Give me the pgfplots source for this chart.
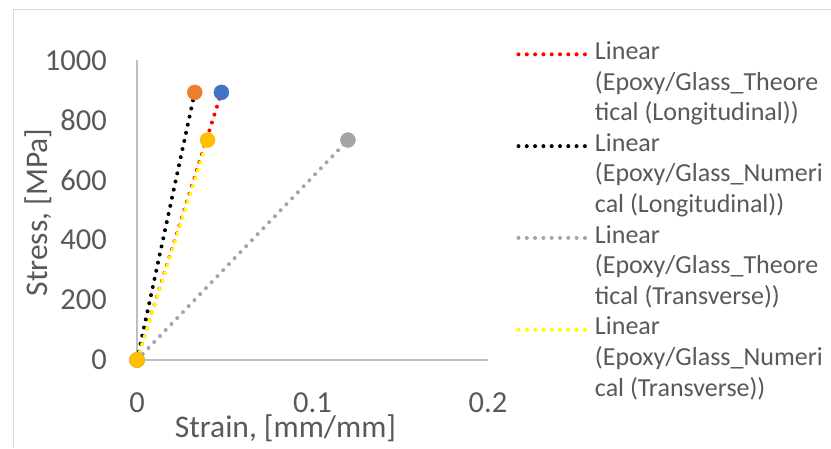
\documentclass[border=0pt]{standalone}
\usepackage{pgfplots}
\pgfplotsset{compat=1.18}
\usepackage{fontspec}
\setmainfont{Carlito}
\definecolor{txt}{HTML}{595959}
\definecolor{axc}{HTML}{BFBFBF}
\definecolor{brd}{HTML}{D9D9D9}
\definecolor{cblue}{HTML}{4472C4}
\definecolor{corange}{HTML}{ED7D31}
\definecolor{cgray}{HTML}{A5A5A5}
\definecolor{cyellow}{HTML}{FFC000}
\definecolor{lyellow}{HTML}{FFFF00}
\begin{document}
\begin{tikzpicture}
\useasboundingbox (0pt,0pt) rectangle (831pt,448pt);
\draw[brd, line width=1pt] (13pt,0pt) -- (13pt,438pt) -- (831pt,438pt);
\begin{axis}[
  at={(137pt,88pt)}, anchor=south west,
  scale only axis, width=351pt, height=299.7pt,
  xmin=0, xmax=0.2, ymin=0, ymax=1000,
  clip=false,
  axis x line*=bottom, axis y line*=left,
  axis line style={axc, line width=2pt, -},
  major tick length=0pt,
  xtick={0,0.1,0.2}, xticklabels={0,0.1,0.2},
  ytick={0,200,400,600,800,1000}, yticklabels={0,200,400,600,800,1000},
  /pgf/number format/assume math mode=true,
  every tick label/.append style={font=\fontsize{30.5}{36}\selectfont, text=txt},
  yticklabel style={anchor=east, inner sep=0pt, xshift=-30pt},
  xticklabel style={anchor=north, inner sep=0pt, yshift=-33pt},
  xlabel={Strain, [mm/mm]},
  ylabel={Stress, [MPa]},
  label style={font=\fontsize{31.5}{38}\selectfont, text=txt},
  xlabel style={at={(axis description cs:0.423,-0.257)}, anchor=base, inner sep=0pt},
  ylabel style={at={(axis description cs:-0.2536,0.492)}, anchor=base, inner sep=0pt},
  legend cell align=left,
  legend image code/.code={\path (0pt,10pt); \draw[#1] (1.5pt,0pt)--(70pt,0pt);},
  legend style={draw=none, fill=none, at={(axis description cs:1.0769,1.071)}, anchor=north west,
    inner sep=0pt, outer sep=0pt, row sep=0pt, column sep=6pt,
    font=\fontsize{26}{31}\selectfont, text=txt,
    nodes={inner sep=0pt, text height=20.5pt, text depth=10.1pt}},
]
% data markers
\addplot[only marks, mark=*, mark size=7.5pt, color=cblue, forget plot] coordinates {(0,0) (0.0481,893)};
\addplot[only marks, mark=*, mark size=7.5pt, color=corange, forget plot] coordinates {(0,0) (0.0329,893)};
\addplot[only marks, mark=*, mark size=7.5pt, color=cgray, forget plot] coordinates {(0,0) (0.1202,734)};
\addplot[only marks, mark=*, mark size=7.5pt, color=cyellow, forget plot] coordinates {(0,0) (0.0402,734)};
% linear trend lines
\addplot[red, line width=4pt, line cap=round, dash pattern=on 0pt off 8.3pt] coordinates {(0,0) (0.0481,893)};
\addlegendentry{Linear}
\addlegendimage{empty legend}\addlegendentry{(Epoxy/Glass\_Theore}
\addlegendimage{empty legend}\addlegendentry{tical (Longitudinal))}
\addplot[black, line width=4pt, line cap=round, dash pattern=on 0pt off 8.3pt] coordinates {(0,0) (0.0329,893)};
\addlegendentry{Linear}
\addlegendimage{empty legend}\addlegendentry{(Epoxy/Glass\_Numeri}
\addlegendimage{empty legend}\addlegendentry{cal (Longitudinal))}
\addplot[cgray, line width=4pt, line cap=round, dash pattern=on 0pt off 8.3pt] coordinates {(0,0) (0.1202,734)};
\addlegendentry{Linear}
\addlegendimage{empty legend}\addlegendentry{(Epoxy/Glass\_Theore}
\addlegendimage{empty legend}\addlegendentry{tical (Transverse))}
\addplot[lyellow, line width=4pt, line cap=round, dash pattern=on 0pt off 8.3pt] coordinates {(0,0) (0.0402,734)};
\addlegendentry{Linear}
\addlegendimage{empty legend}\addlegendentry{(Epoxy/Glass\_Numeri}
\addlegendimage{empty legend}\addlegendentry{cal (Transverse))}
\end{axis}
\end{tikzpicture}
\end{document}
